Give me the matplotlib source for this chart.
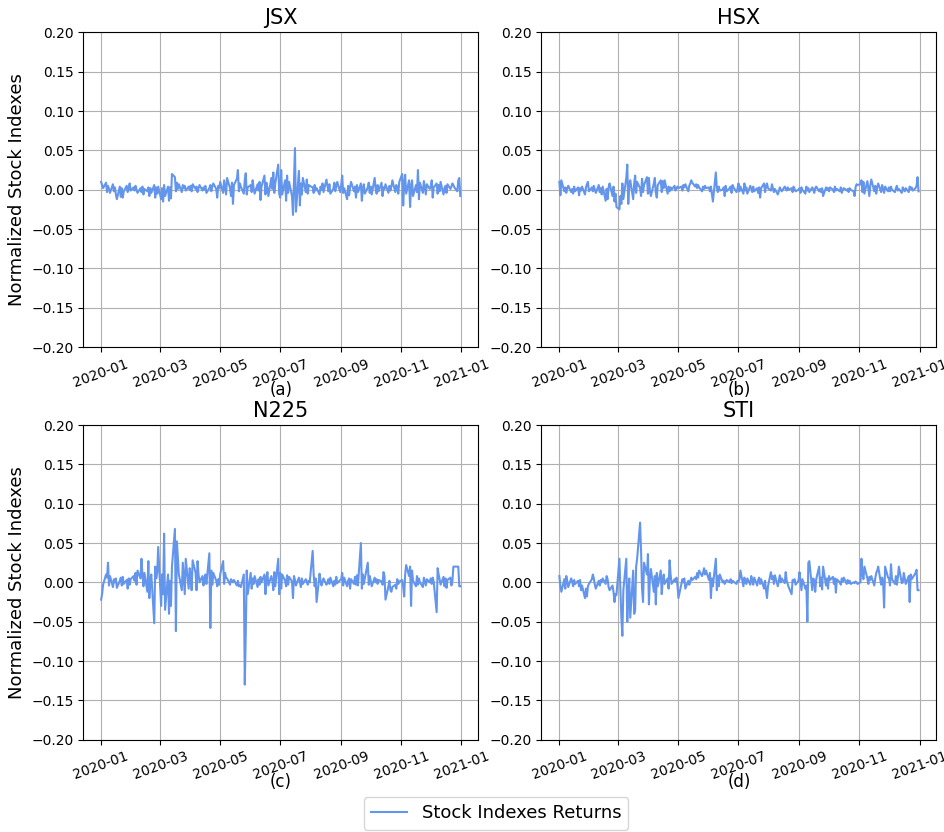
import matplotlib
matplotlib.use("Agg")
import matplotlib.pyplot as plt
import matplotlib.dates as mdates
import pandas as pd

# trading days of 2020
dates = pd.bdate_range("2020-01-01", "2020-12-31")

titles = ["JSX", "HSX", "N225", "STI"]
panel_labels = ["(a)", "(b)", "(c)", "(d)"]

jsx = [
    # Jan
    0.010, 0.006, 0.002, 0.009, -0.003, 0.005, 0.001, -0.004, 0.007, -0.002,
    0.003, -0.006, -0.012, 0.004, -0.009, 0.002, -0.010, -0.002, 0.005, -0.003,
    0.001, 0.008, -0.001,
    # Feb
    0.003, -0.001, 0.005, 0.000, -0.004, 0.002, -0.003, 0.004, -0.006, 0.001,
    -0.002, 0.003, -0.008, 0.002, -0.004, 0.006, -0.010, 0.003, -0.005, 0.004,
    # Mar
    -0.012, 0.002, -0.015, 0.006, -0.008, 0.004, -0.014, 0.003, -0.011, 0.020,
    0.016, -0.002, 0.009, 0.001, 0.007, -0.003, 0.006, 0.002, 0.005, -0.001,
    0.004, 0.000,
    # Apr
    0.005, -0.002, 0.007, 0.001, 0.004, -0.003, 0.002, 0.006, -0.001, 0.003,
    0.000, 0.005, -0.004, 0.002, 0.006, -0.002, 0.004, 0.008, 0.001, -0.010,
    0.005, 0.002,
    # May
    0.010, -0.004, 0.012, 0.003, -0.006, 0.015, 0.002, -0.008, 0.009, -0.018,
    0.006, 0.014, 0.025, -0.002, 0.008, 0.004, -0.005, 0.012, 0.021, -0.006,
    0.003,
    # Jun
    0.006, -0.003, 0.012, 0.002, -0.005, 0.007, -0.001, 0.010, -0.013, 0.004,
    0.018, -0.006, 0.009, 0.003, -0.008, 0.015, 0.001, 0.022, -0.004, 0.008,
    0.032, -0.005,
    # Jul
    -0.010, 0.025, -0.006, 0.012, -0.014, 0.018, -0.004, 0.010, -0.008, -0.032,
    0.012, 0.053, -0.028, 0.024, -0.020, 0.008, -0.006, 0.015, -0.003, 0.013,
    -0.005, 0.006, 0.005,
    # Aug
    0.003, -0.004, 0.006, -0.001, 0.002, -0.006, 0.004, 0.000, 0.008, -0.003,
    0.013, 0.005, -0.002, 0.007, -0.005, 0.001, 0.009, -0.002, 0.004, 0.010,
    -0.003,
    # Sep
    0.006, 0.018, -0.004, 0.002, -0.012, 0.005, -0.007, 0.003, 0.010, -0.002,
    0.004, -0.010, 0.006, -0.003, 0.008, -0.014, 0.002, 0.007, -0.005, 0.003,
    0.009, -0.004,
    # Oct
    0.004, -0.006, 0.015, 0.001, -0.005, 0.006, -0.002, 0.009, -0.008, 0.003,
    0.001, 0.007, -0.004, 0.005, -0.001, 0.004, 0.012, -0.003, 0.006, 0.002,
    -0.005, 0.010,
    # Nov
    0.020, -0.020, 0.008, 0.019, -0.005, 0.012, -0.022, 0.004, 0.012, -0.008,
    0.006, -0.003, 0.025, -0.012, 0.009, -0.004, 0.011, 0.002, -0.006, 0.007,
    0.001,
    # Dec
    0.004, 0.012, -0.010, 0.003, 0.008, -0.005, 0.006, -0.002, 0.010, -0.006,
    0.002, 0.005, -0.004, 0.007, 0.001, 0.004, 0.008, 0.006, 0.003, -0.002,
    0.012, 0.015, -0.008,
]

hsx = [
    # Jan
    0.010, -0.007, 0.012, -0.002, 0.003, -0.004, 0.002, 0.005, -0.003, 0.001,
    -0.005, 0.004, -0.002, 0.003, -0.007, 0.002, -0.001, 0.004, -0.006, 0.003,
    0.007, 0.010, -0.002,
    # Feb
    0.003, -0.002, 0.005, 0.000, -0.004, 0.006, -0.003, 0.002, -0.006, 0.004,
    -0.014, 0.001, -0.012, 0.003, 0.008, -0.008, 0.004, -0.015, -0.005, -0.022,
    # Mar
    -0.025, -0.008, -0.018, 0.008, -0.012, 0.015, 0.032, -0.018, 0.005, 0.012,
    -0.012, 0.008, 0.018, -0.004, 0.010, 0.002, -0.008, 0.014, -0.003, 0.006,
    0.016, -0.005,
    # Apr
    0.015, -0.002, -0.008, 0.008, 0.015, -0.004, -0.010, 0.006, 0.012, -0.003,
    0.011, 0.002, 0.012, -0.005, 0.004, -0.002, 0.003, 0.000, 0.005, -0.001,
    0.002, 0.004,
    # May
    0.002, 0.004, -0.001, 0.006, 0.003, 0.007, -0.002, 0.005, 0.008, 0.012,
    0.009, 0.004, 0.007, 0.002, 0.006, 0.003, -0.002, 0.004, 0.001, 0.005,
    0.002,
    # Jun
    0.003, -0.002, 0.004, -0.005, -0.015, 0.022, 0.002, -0.003, 0.004, -0.001,
    0.000, 0.003, -0.008, 0.005, -0.002, 0.002, 0.004, -0.004, 0.006, 0.003,
    -0.003, 0.001,
    # Jul
    0.008, -0.002, 0.004, -0.005, 0.008, -0.001, 0.003, -0.005, 0.005, 0.001,
    -0.003, 0.004, -0.002, 0.002, -0.004, 0.003, -0.010, 0.002, 0.008, -0.003,
    0.004, 0.008, 0.002,
    # Aug
    -0.001, 0.007, 0.002, -0.003, 0.001, -0.006, -0.002, 0.003, 0.000, -0.002,
    0.004, 0.001, -0.001, 0.003, 0.000, 0.002, -0.003, 0.004, 0.001, -0.002,
    0.000,
    # Sep
    0.002, -0.004, 0.003, 0.000, -0.005, 0.004, -0.001, 0.002, -0.003, 0.003,
    0.000, -0.004, 0.002, 0.004, -0.002, 0.001, -0.003, 0.002, -0.008, 0.003,
    0.000, 0.002,
    # Oct
    -0.002, 0.003, 0.000, -0.003, 0.004, -0.001, 0.001, -0.002, 0.003, -0.004,
    0.000, 0.002, -0.001, 0.001, -0.003, 0.002, 0.000, -0.002, -0.008, 0.003,
    0.007, 0.006,
    # Nov
    0.007, 0.012, -0.003, 0.010, -0.005, 0.011, 0.002, -0.008, 0.006, 0.013,
    -0.002, 0.005, -0.005, 0.003, 0.008, -0.003, 0.006, 0.001, -0.004, 0.004,
    -0.002,
    # Dec
    0.003, -0.002, 0.004, 0.000, -0.003, 0.002, 0.005, -0.001, 0.001, -0.004,
    0.003, 0.000, -0.002, 0.002, -0.003, 0.004, 0.001, 0.003, -0.001, 0.002,
    0.005, 0.016, -0.002,
]

n225 = [
    # Jan
    -0.022, -0.015, -0.003, 0.010, 0.006, 0.025, -0.004, 0.008, -0.006, 0.004,
    0.000, 0.005, -0.007, 0.002, 0.006, -0.004, 0.007, -0.002, 0.003, -0.008,
    0.005, -0.003, 0.004,
    # Feb
    0.008, 0.002, 0.012, -0.003, 0.015, 0.005, 0.030, 0.010, -0.005, 0.012,
    -0.012, 0.027, -0.020, 0.003, 0.010, -0.052, 0.020, 0.005, 0.012, 0.045,
    # Mar
    -0.030, 0.010, -0.015, 0.062, -0.035, 0.010, -0.040, 0.002, -0.030, 0.020,
    0.068, -0.062, 0.052, 0.030, 0.010, -0.010, 0.025, 0.005, -0.015, 0.030,
    -0.008, 0.018,
    # Apr
    0.010, -0.010, 0.028, 0.012, -0.010, 0.027, 0.010, 0.000, 0.008, -0.004,
    0.005, 0.010, -0.002, 0.037, -0.058, 0.015, -0.003, 0.012, 0.002, -0.005,
    0.004, -0.003,
    # May
    0.010, 0.027, -0.002, 0.012, 0.006, 0.005, -0.003, 0.004, 0.002, 0.000,
    0.003, -0.004, 0.002, -0.005, -0.004, -0.006, 0.010, -0.130, -0.065, 0.015,
    -0.015,
    # Jun
    0.012, -0.008, 0.005, -0.002, 0.008, -0.006, 0.004, -0.003, 0.007, 0.000,
    0.010, -0.015, 0.005, 0.013, -0.004, 0.008, 0.002, -0.010, 0.013, -0.005,
    0.030, -0.015,
    # Jul
    0.012, -0.008, 0.010, 0.002, -0.005, 0.009, -0.003, 0.007, 0.001, -0.020,
    0.008, 0.003, -0.004, 0.006, 0.000, -0.006, 0.005, -0.002, 0.004, 0.001,
    -0.003, 0.002, 0.000,
    # Aug
    0.040, 0.010, -0.005, 0.005, -0.025, 0.011, 0.002, -0.004, 0.001, 0.005,
    -0.003, 0.000, 0.004, -0.002, 0.006, -0.005, 0.002, -0.003, 0.007, -0.001,
    0.003,
    # Sep
    0.004, 0.012, -0.004, 0.006, -0.005, 0.002, 0.005, -0.008, 0.004, -0.002,
    0.007, -0.003, 0.009, -0.004, 0.050, -0.008, 0.010, -0.002, 0.005, 0.025,
    -0.003, 0.008,
    # Oct
    0.002, -0.005, 0.006, 0.000, 0.004, -0.002, 0.003, 0.001, -0.003, 0.013,
    0.008, -0.022, -0.005, 0.002, -0.010, -0.012, -0.006, -0.003, -0.008, 0.004,
    -0.002, 0.001,
    # Nov
    0.003, -0.006, -0.018, 0.010, 0.022, 0.008, 0.020, -0.030, 0.015, 0.002,
    -0.005, 0.008, -0.003, 0.005, 0.000, -0.006, 0.006, 0.001, -0.004, 0.004,
    0.000,
    # Dec
    0.005, -0.002, 0.006, 0.001, -0.038, 0.018, 0.010, 0.004, -0.003, 0.007,
    -0.005, 0.005, -0.007, 0.003, 0.006, -0.004, 0.001, 0.020, 0.020, 0.020,
    0.020, -0.005, -0.005,
]

sti = [
    # Jan
    0.008, -0.005, -0.012, 0.004, -0.008, 0.008, 0.002, -0.006, 0.005, 0.001,
    -0.005, 0.003, -0.002, 0.002, -0.005, 0.003, -0.010, -0.004, -0.020, -0.008,
    -0.018, -0.005, -0.002,
    # Feb
    0.004, 0.010, 0.005, -0.003, -0.008, 0.002, -0.004, 0.003, 0.000, 0.005,
    -0.002, 0.008, 0.004, -0.006, -0.010, -0.004, -0.012, -0.025, -0.015, -0.016,
    # Mar
    0.030, -0.010, -0.045, -0.068, -0.010, 0.030, -0.050, -0.015, 0.005, -0.045,
    0.015, -0.040, -0.035, 0.020, 0.030, 0.076, 0.040, -0.008, -0.025, 0.025,
    0.010, 0.036,
    # Apr
    -0.028, 0.005, 0.017, -0.012, 0.008, -0.028, 0.012, -0.005, 0.015, -0.015,
    0.002, 0.010, -0.002, 0.005, -0.008, 0.028, 0.010, -0.002, 0.004, 0.001,
    0.006, -0.004,
    # May
    -0.020, -0.002, 0.004, 0.000, 0.005, -0.008, 0.002, -0.003, 0.001, 0.006,
    0.003, 0.007, 0.004, 0.012, 0.006, 0.015, 0.008, 0.012, 0.018, 0.010,
    0.015,
    # Jun
    0.003, 0.012, -0.020, 0.005, -0.005, 0.030, -0.010, 0.008, -0.005, 0.010,
    0.000, 0.002, -0.002, 0.001, 0.003, 0.000, 0.004, -0.001, 0.002, 0.001,
    -0.002, 0.002,
    # Jul
    0.001, 0.004, 0.015, -0.005, 0.006, 0.000, -0.002, 0.005, -0.003, 0.008,
    0.002, -0.003, 0.006, -0.004, 0.003, 0.006, -0.002, 0.004, -0.008, 0.002,
    -0.010, -0.020, -0.005,
    # Aug
    0.013, 0.004, 0.008, -0.002, 0.009, -0.005, 0.002, 0.009, 0.000, 0.005,
    -0.001, 0.013, 0.002, -0.002, -0.006, -0.015, 0.003, 0.001, 0.004, -0.003,
    0.002,
    # Sep
    0.013, 0.002, -0.010, 0.004, -0.008, -0.004, -0.050, 0.025, 0.027, -0.010,
    0.005, 0.002, -0.012, 0.004, 0.020, -0.005, 0.006, -0.009, 0.020, -0.004,
    0.005, -0.008,
    # Oct
    0.008, 0.003, 0.007, -0.002, 0.005, -0.013, 0.004, 0.000, -0.003, 0.005,
    0.001, 0.006, -0.002, 0.003, -0.001, 0.002, -0.002, 0.000, -0.001, 0.001,
    0.000, -0.002,
    # Nov
    0.000, 0.030, 0.010, 0.004, 0.020, 0.005, -0.002, 0.007, 0.003, 0.008,
    -0.004, 0.005, 0.012, 0.015, 0.020, -0.003, 0.006, 0.000, -0.032, 0.020,
    0.006,
    # Dec
    0.005, -0.004, 0.023, 0.004, -0.002, 0.008, -0.003, 0.006, 0.020, -0.001,
    0.000, 0.012, 0.005, -0.002, 0.008, -0.025, 0.010, 0.004, 0.006, 0.012,
    0.016, -0.010, -0.010,
]

series = [jsx, hsx, n225, sti]

fig, axes = plt.subplots(2, 2, figsize=(9.45, 8.32), dpi=100)
plt.subplots_adjust(left=0.088, right=0.991, top=0.961, bottom=0.111,
                    wspace=0.16, hspace=0.248)

for i, ax in enumerate(axes.flat):
    line, = ax.plot(dates, series[i], color="cornflowerblue", linewidth=1.5,
                    label="Stock Indexes Returns")
    ax.set_title(titles[i], fontsize=15)
    ax.set_ylim(-0.2, 0.2)
    ax.set_yticks([-0.2, -0.15, -0.1, -0.05, 0.0, 0.05, 0.1, 0.15, 0.2])
    ax.xaxis.set_major_locator(mdates.MonthLocator(bymonth=[1, 3, 5, 7, 9, 11]))
    ax.xaxis.set_major_formatter(mdates.DateFormatter("%Y-%m"))
    ax.tick_params(axis="x", labelrotation=20)
    # panel label sits just under the tick labels
    ax.text(0.5, -0.135, panel_labels[i], transform=ax.transAxes,
            ha="center", va="center", fontsize=12)
    ax.grid(True)
    if i % 2 == 0:
        ax.set_ylabel("Normalized Stock Indexes", fontsize=13)

fig.legend(handles=[line], loc="lower center", bbox_to_anchor=(0.525, -0.008),
           fontsize=13)

plt.savefig("out.png")
